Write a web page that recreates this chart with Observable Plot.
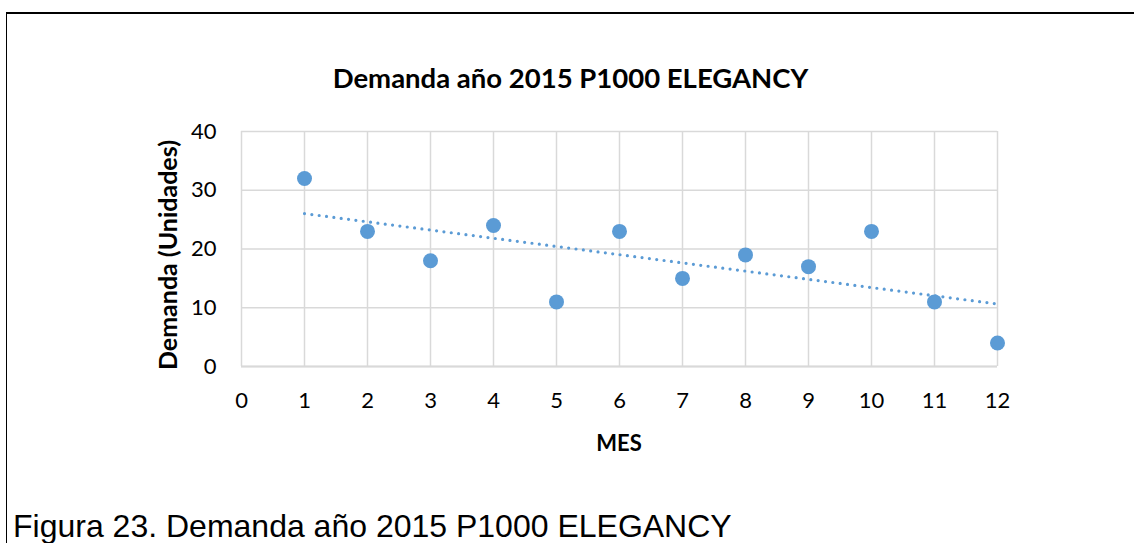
<!DOCTYPE html>
<html>
<head>
<meta charset="utf-8">
<script src="https://cdn.jsdelivr.net/npm/d3@7"></script>
<script src="https://cdn.jsdelivr.net/npm/@observablehq/plot@0.6"></script>
<style>
  html, body { margin: 0; padding: 0; background: #fff; }
  body { width: 1134px; height: 543px; position: relative; overflow: hidden; }
  #frame { position: absolute; left: 6px; top: 12px; width: 1140px; height: 600px;
           border-left: 1.5px solid #000; border-top: 2px solid #000; }
  #chart { position: absolute; left: 0; top: 0; }
  .lbl { position: absolute; font-family: Lato, "Open Sans", sans-serif; font-weight: bold; color: #000; white-space: nowrap; }
  #title { left: 7px; width: 1127px; text-align: center; top: 64px; font-size: 27.5px; line-height: 27.5px; }
  #xlabel { left: 241px; width: 756px; text-align: center; top: 432px; font-size: 22px; line-height: 22px; }
  #ylabel { left: 167px; top: 255px; font-size: 25px; line-height: 25px; transform: translate(-50%, -50%) rotate(-90deg); }
  #caption { position: absolute; left: 13px; top: 510px; font-family: "Liberation Sans", Arial, sans-serif; font-size: 32px; line-height: 32px; color: #000; white-space: nowrap; }
</style>
</head>
<body>
<div id="frame"></div>
<div id="chart"></div>
<div class="lbl" id="title">Demanda año 2015 P1000 ELEGANCY</div>
<div class="lbl" id="ylabel">Demanda (Unidades)</div>
<div class="lbl" id="xlabel">MES</div>
<div id="caption">Figura 23. Demanda año 2015 P1000 ELEGANCY</div>
<script>
const meses = [1, 2, 3, 4, 5, 6, 7, 8, 9, 10, 11, 12];
const demanda = [32, 23, 18, 24, 11, 23, 15, 19, 17, 23, 11, 4];
const xTicks = [0, 1, 2, 3, 4, 5, 6, 7, 8, 9, 10, 11, 12];
const yTicks = [0, 10, 20, 30, 40];

const data = meses.map((m, i) => ({mes: m, demanda: demanda[i]}));
const blue = "#5B9BD5";
const grid = "#D9D9D9";

const chart = Plot.plot({
  width: 1134,
  height: 470,
  marginLeft: 241,
  marginRight: 137,
  marginTop: 131,
  marginBottom: 104,
  style: {fontFamily: "Lato, 'Open Sans', sans-serif", fontSize: "22px", color: "#000", background: "transparent"},
  x: {domain: [0, 12], ticks: xTicks, tickSize: 0, tickPadding: 26, label: null, tickFormat: d => String(d)},
  y: {domain: [0, 40], ticks: yTicks, tickSize: 0, tickPadding: 25, label: null, tickFormat: d => String(d)},
  marks: [
    Plot.gridX(xTicks, {stroke: grid, strokeOpacity: 1, strokeWidth: 1.5}),
    Plot.gridY(yTicks, {stroke: grid, strokeOpacity: 1, strokeWidth: 1.5}),
    Plot.ruleY([0], {stroke: grid, strokeWidth: 2}),
    Plot.linearRegressionY(data, {x: "mes", y: "demanda", ci: 0, stroke: blue, strokeWidth: 3.2, strokeDasharray: "0 7.4", strokeLinecap: "round"}),
    Plot.dot(data, {x: "mes", y: "demanda", r: 7.5, fill: blue, stroke: "none"})
  ]
});
document.getElementById("chart").appendChild(chart);
</script>
</body>
</html>
